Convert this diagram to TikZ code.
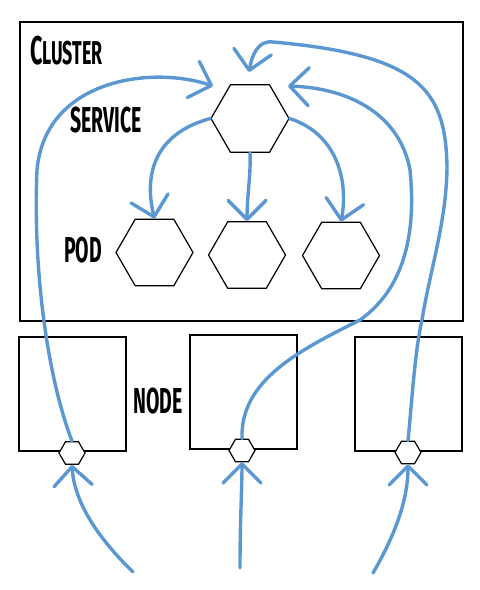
\documentclass[tikz,border=0pt]{standalone}
\usepackage{fontspec}
\newfontfamily\handfont[FakeStretch=0.54]{Fira Sans}
\usetikzlibrary{arrows.meta,shapes.geometric}
\definecolor{flowblue}{RGB}{91,152,210}
\begin{document}
\begin{tikzpicture}[
    x=1pt, y=-1pt,
    box/.style={draw, line width=1.3pt, minimum width=#1, inner sep=0pt},
    hexa/.style={regular polygon, regular polygon sides=6, draw, line width=1.2pt, fill=white, inner sep=0pt, minimum size=#1},
    label/.style={font=\handfont\bfseries\fontsize{36}{36}\selectfont, anchor=base west, inner sep=0pt},
    flow/.style={draw=flowblue, line width=3.4pt, line cap=round, -{Straight Barb[length=19pt,width=38pt,round]}},
]
    \useasboundingbox (0,0) rectangle (480,590);

    % Cluster frame
    \node[box=443pt, minimum height=299pt] (cluster) at (241.5,171.5) {};
    \node[label] (clusterlbl) at (30,64) {\fontsize{40}{40}\selectfont C\fontsize{33}{33}\selectfont LUSTER};

    % Service
    \node[hexa=78pt] (service) at (250,118.5) {};
    \node[label] (servicelbl) at (70,132) {SERVICE};

    % Pods
    \node[hexa=77pt] (pod1) at (154.5,252.5) {};
    \node[hexa=77pt] (pod2) at (247,255) {};
    \node[hexa=77pt] (pod3) at (341,255.5) {};
    \node[label] (podlbl) at (64,262) {POD};

    % Nodes
    \node[box=107pt, minimum height=114pt] (node1) at (72.5,394) {};
    \node[box=107pt, minimum height=114pt] (node2) at (243.5,392) {};
    \node[box=107pt, minimum height=114pt] (node3) at (408.5,394) {};
    \node[label] (nodelbl) at (133,413) {NODE};

    % Node ports
    \node[hexa=26pt] (port1) at (72,453) {};
    \node[hexa=26pt] (port2) at (242,450.5) {};
    \node[hexa=26pt] (port3) at (408,452.5) {};

    % Free ends
    \coordinate (in1) at (133,572);
    \coordinate (in2) at (240,568);
    \coordinate (in3) at (373,573);
    \coordinate (svcL) at (213,86);
    \coordinate (svcT) at (249,72);
    \coordinate (svcR) at (288,86);

    % Service to pods
    \draw[flow] (service.west) .. controls (150,135) and (145,180) .. (pod1.north);
    \draw[flow] (service.south) .. controls (251,175) and (247,195) .. (pod2.north);
    \draw[flow] (service.east) .. controls (340,135) and (348,185) .. (pod3.north);

    % Traffic into the ports
    \draw[flow] (in1) .. controls (95,535) and (74,500) .. (port1.south);
    \draw[flow] (in2) .. controls (240,520) and (242,490) .. (port2.south);
    \draw[flow] (in3) .. controls (395,535) and (408,500) .. (port3.south);

    % Ports to service
    \draw[flow] (port1.north) .. controls (45,370) and (33,260) .. (37,170)
        .. controls (45,80) and (150,65) .. (svcL);
    \draw[flow] (port2.north) .. controls (240,380) and (300,350) .. (360,320)
        .. controls (395,295) and (418,250) .. (410,170)
        .. controls (400,115) and (350,88) .. (svcR);
    \draw[flow] (port3.north) .. controls (412,400) and (415,350) .. (422,320)
        .. controls (430,270) and (447,220) .. (447,165)
        .. controls (445,90) and (420,55) .. (273,42)
        .. controls (258,40) and (252,55) .. (svcT);
\end{tikzpicture}
\end{document}
